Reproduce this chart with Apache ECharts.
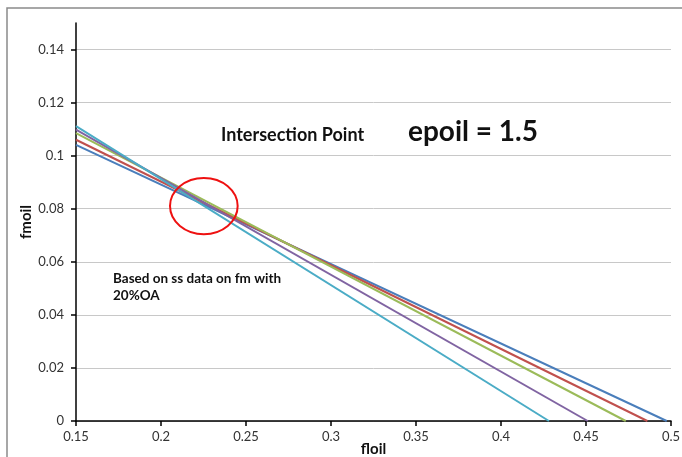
<!DOCTYPE html>
<html>
<head>
<meta charset="utf-8">
<script src="https://cdn.jsdelivr.net/npm/echarts@6/dist/echarts.min.js"></script>
<style>
html,body{margin:0;padding:0;background:#fff;overflow:hidden;}
#chart{width:682px;height:457px;}
</style>
</head>
<body>
<div id="chart"></div>
<script>
// Series: each line runs from its value at floil = 0.15 to its x-intercept (fmoil = 0)
var seriesNames = ['s1', 's2', 's3', 's4', 's5'];
var startX = 0.15;
var startY = [0.1041, 0.1060, 0.1085, 0.1098, 0.1111];
var endX = [0.4975, 0.4861, 0.4734, 0.4510, 0.4282];
var endY = [0, 0, 0, 0, 0];
var colors = ['#4a7ebb', '#c0504d', '#9bbb59', '#8064a2', '#4bacc6'];

var xTicks = { min: 0.15, max: 0.5, interval: 0.05 };
var yTicks = { min: 0, max: 0.15, interval: 0.02 };

// Annotation ellipse around intersection (data coords: center and radii)
var circleCenter = [0.2252, 0.0810];
var circleRadius = [0.0199, 0.0106];

var chart = echarts.init(document.getElementById('chart'));
var FONT = 'Lato, "Open Sans", sans-serif';

var series = seriesNames.map(function (n, i) {
  return {
    name: n,
    type: 'line',
    data: [[startX, startY[i]], [endX[i], endY[i]]],
    symbol: 'none',
    lineStyle: { color: colors[i], width: 2 },
    animation: false
  };
});

var splitColors = [];
for (var v = yTicks.min; v <= yTicks.max + 1e-9; v += yTicks.interval) splitColors.push('#c8c8c8');
splitColors.push('rgba(0,0,0,0)');

var option = {
  animation: false,
  backgroundColor: '#fff',
  grid: { left: 76, right: 11, top: 23, bottom: 36, containLabel: false, outerBoundsMode: 'none' },
  xAxis: {
    type: 'value',
    min: xTicks.min, max: xTicks.max, interval: xTicks.interval,
    name: 'floil', nameLocation: 'middle', nameGap: 21, nameMoveOverlap: false,
    nameTextStyle: { fontFamily: FONT, fontWeight: 'bold', fontSize: 15, color: '#111' },
    axisLine: { lineStyle: { color: '#000', width: 1.5 } },
    axisTick: { show: true, inside: false, length: 5, lineStyle: { color: '#000', width: 1.5 } },
    axisLabel: { fontFamily: FONT, fontSize: 13, color: '#333', margin: 9,
      formatter: function (v) { return String(+v.toFixed(4)); } },
    splitLine: { show: false }
  },
  yAxis: {
    type: 'value',
    min: yTicks.min, max: yTicks.max, interval: yTicks.interval,
    name: 'fmoil', nameLocation: 'middle', nameGap: 42, nameRotate: 90, nameMoveOverlap: false,
    nameTextStyle: { fontFamily: FONT, fontWeight: 'bold', fontSize: 15, color: '#111' },
    axisLine: { show: true, lineStyle: { color: '#000', width: 1.5 } },
    axisTick: { show: true, inside: false, length: 5, lineStyle: { color: '#000', width: 1.5 } },
    axisLabel: { fontFamily: FONT, fontSize: 13, color: '#333', margin: 12, showMaxLabel: false,
      formatter: function (v) { return v > 0.145 ? '' : String(+v.toFixed(4)); } },
    splitLine: { show: true, lineStyle: { color: splitColors, width: 1 } }
  },
  series: series
};
chart.setOption(option);

function drawGraphics() {
  var c = chart.convertToPixel({ gridIndex: 0 }, circleCenter);
  var e = chart.convertToPixel({ gridIndex: 0 }, [circleCenter[0] + circleRadius[0], circleCenter[1] + circleRadius[1]]);
  chart.setOption({
    graphic: [
      { type: 'rect', shape: { x: 7, y: 8, width: 800, height: 600 }, style: { fill: 'none', stroke: '#8a8a8a', lineWidth: 1.5 }, silent: true, z: 0 },
      { type: 'ellipse', shape: { cx: c[0], cy: c[1], rx: Math.abs(e[0] - c[0]), ry: Math.abs(c[1] - e[1]) },
        style: { fill: 'none', stroke: '#ee1111', lineWidth: 2 }, z: 100 },
      { type: 'text', left: 221, top: 126, style: { text: 'Intersection Point', fontFamily: FONT, fontWeight: 'bold', fontSize: 18, fill: '#111' }, z: 100 },
      { type: 'text', left: 408, top: 118, style: { text: 'epoil = 1.5', fontFamily: FONT, fontWeight: 'bold', fontSize: 28, fill: '#111' }, z: 100 },
      { type: 'text', left: 113, top: 270, style: { text: 'Based on ss data on fm with\n20%OA', fontFamily: FONT, fontWeight: 'bold', fontSize: 13.5, lineHeight: 17, fill: '#111' }, z: 100 }
    ]
  });
}
drawGraphics();
</script>
</body>
</html>
